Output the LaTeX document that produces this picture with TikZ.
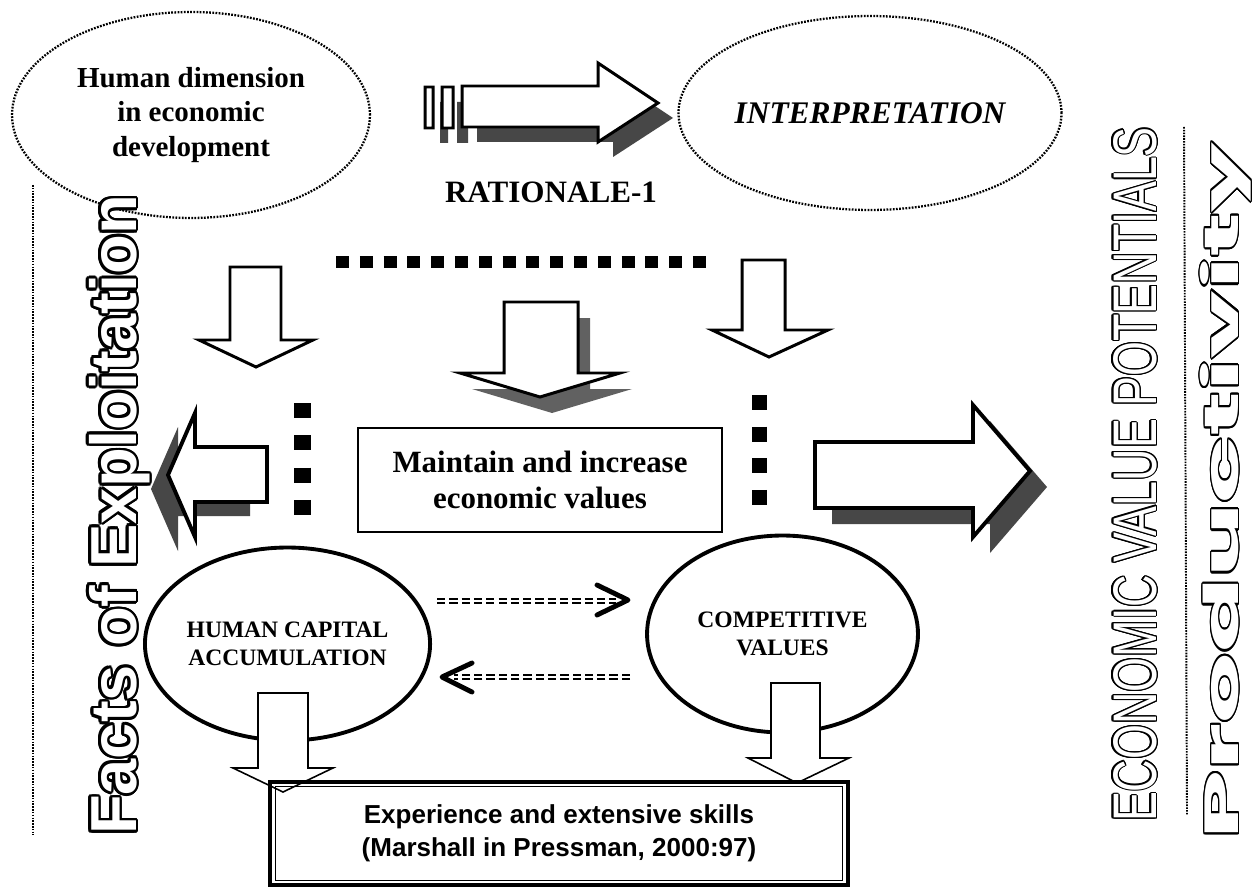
\documentclass[tikz,border=0pt]{standalone}
\usepackage{fontspec}
\setmainfont{Liberation Serif}
\newfontfamily\arialf{Liberation Sans}
\newfontfamily\popf{Poppins}
\usepackage{graphicx}
\usepackage{contour}
\usetikzlibrary{shapes.geometric,calc}
\newcommand\hollowtxt[2]{{\contourlength{#1}\color{white}\contour{black}{#2}}}
\tikzset{
  dotl/.style={line width=1.1pt, dash pattern=on 0.9pt off 0.7pt},
  dotell/.style={ellipse, draw, line width=1.3pt, dash pattern=on 1pt off 0.8pt, inner sep=0pt},
  solell/.style={ellipse, draw, line width=2.2pt, inner sep=0pt},
  blk/.style={draw, fill=white, line width=1.7pt, line join=miter},
  bigblk/.style={draw, fill=white, line width=2.2pt, line join=miter},
  thinblk/.style={draw, fill=white, line width=0.9pt, line join=miter},
  shad/.style={fill=black!72, draw=none},
  lshad/.style={fill=black!62, draw=none},
  dbldash/.style={draw=black, line width=0.9pt, double=white, double distance=1.1pt, dash pattern=on 4.7pt off 2.3pt},
  chev/.style={line width=2.8pt, line cap=round, line join=round},
  ratpath/.style={insert path={(462,86) -- (598,86) -- (598,63) -- (658,103) -- (598,142) -- (598,127) -- (462,127) -- cycle (425,87) rectangle (433,128) (442,87) rectangle (453,128)}},
  leftpath/.style={insert path={(267,447) -- (195,447) -- (195,413) -- (168,475) -- (195,537) -- (195,502) -- (267,502) -- cycle}},
  rightpath/.style={insert path={(815,442) -- (973,442) -- (973,405) -- (1030,471) -- (973,537) -- (973,508) -- (815,508) -- cycle}},
  midpath/.style={insert path={(504,302) -- (578,302) -- (578,373) -- (620,373) -- (540,397) -- (460,373) -- (504,373) -- cycle}},
}
\begin{document}
\begin{tikzpicture}[x=0.02cm,y=-0.02cm]
\useasboundingbox (0,0) rectangle (1256,888);
\fill[white] (0,0) rectangle (1256,888);

% top ellipses
\node[dotell, minimum width=7.16cm, minimum height=4.12cm, align=center,
  font=\fontsize{16.5}{19.9}\selectfont\bfseries] (hde) at (191,115)
  {Human dimension\\in economic\\development};
\node[dotell, minimum width=7.08cm, minimum height=3.88cm,
  font=\fontsize{17.9}{20}\selectfont\bfseries\itshape] (interp) at (870,113) {INTERPRETATION};

% rationale arrow
\fill[shad, shift={(15,15)}, ratpath];
\draw[blk, ratpath];
\node[font=\fontsize{17.7}{20}\selectfont\bfseries] (rat) at (551,192) {RATIONALE-1};

% top row of squares
\coordinate (sqa) at (336,262);
\coordinate (sqb) at (706,262);
\draw[line width=0.26cm, dash pattern=on 0.26cm off 0.216cm] (sqa) -- (sqb);

% top row down arrows
\draw[blk] (230,267) -- (281,267) -- (281,340) -- (313,340) -- (256,367) -- (199,340) -- (230,340) -- cycle;
\fill[lshad, shift={(12,16)}, midpath];
\draw[blk, midpath];
\draw[blk] (742,260) -- (785,260) -- (785,330) -- (828,330) -- (769,357) -- (712,330) -- (742,330) -- cycle;

% vertical squares
\coordinate (lsa) at (302.5,403);
\coordinate (lsb) at (302.5,515);
\draw[line width=0.34cm, dash pattern=on 0.3cm off 0.3467cm] (lsa) -- (lsb);
\coordinate (rsa) at (759.5,395);
\coordinate (rsb) at (759.5,505);
\draw[line width=0.3cm, dash pattern=on 0.3cm off 0.333cm] (rsa) -- (rsb);

% big side arrows
\fill[shad, shift={(-17,14)}, leftpath];
\draw[bigblk, leftpath];
\fill[shad, shift={(17,16)}, rightpath];
\draw[bigblk, rightpath];

% maintain box
\node[draw, line width=1.3pt, minimum width=7.28cm, minimum height=2.08cm, align=center,
  font=\fontsize{17.6}{20}\selectfont\bfseries] (maint) at (540,480)
  {Maintain and increase\\economic values};

% bottom ellipses
\node[solell, minimum width=5.3cm, minimum height=3.86cm, align=center,
  font=\fontsize{13.4}{16}\selectfont\bfseries] (hca) at (287.5,644)
  {HUMAN CAPITAL\\ACCUMULATION};
\node[solell, minimum width=5.42cm, minimum height=3.94cm, align=center,
  font=\fontsize{13.4}{16}\selectfont\bfseries] (comp) at (782.5,634)
  {COMPETITIVE\\VALUES};

% dashed arrows
\coordinate (d1s) at (437,601);
\coordinate (d1e) at (616,601);
\coordinate (d1t) at (628,600);
\draw[dbldash] (d1s) -- (d1e);
\draw[chev] ($(d1t)+(-31,-15)$) -- (d1t) -- ($(d1t)+(-31,15)$);
\coordinate (d2s) at (630,677);
\coordinate (d2e) at (454,677);
\coordinate (d2t) at (442,677);
\draw[dbldash] (d2s) -- (d2e);
\draw[chev] ($(d2t)+(30,-14)$) -- (d2t) -- ($(d2t)+(30,15)$);

% bottom down arrows
\draw[thinblk] (258,693) -- (308,693) -- (308,768) -- (333,768) -- (283,792) -- (233,768) -- (258,768) -- cycle;
\draw[thinblk] (771,683) -- (820,683) -- (820,758) -- (849,758) -- (797,783) -- (748,758) -- (771,758) -- cycle;

% bottom box
\node[draw, line width=1.8pt, minimum width=11.56cm, minimum height=2.06cm, align=center,
  font=\fontsize{14.8}{18.8}\selectfont\arialf\bfseries] (exp) at (559,833.5)
  {Experience and extensive skills\\(Marshall in Pressman, 2000:97)};
\draw[line width=0.9pt] ($(exp.north west)+(7,6)$) rectangle ($(exp.south east)+(-7,-6)$);

% side dotted lines
\coordinate (ldt) at (33,185);
\coordinate (ldb) at (33,835);
\draw[dotl] (ldt) -- (ldb);
\coordinate (rdt) at (1184,127);
\coordinate (rdb) at (1187,815);
\draw[dotl] (rdt) -- (rdb);

% vertical hollow texts
\node[rotate=90, anchor=base, inner sep=0pt] (facts) at (136,515)
  {\resizebox{12.8cm}{!}{\fontsize{37}{40}\selectfont\hollowtxt{1.6pt}{\arialf\bfseries Facts of Exploitation}}};
\node[rotate=90, anchor=base, inner sep=0pt] (econ) at (1156,474.5)
  {\resizebox{13.9cm}{0.86cm}{\fontsize{30}{34}\selectfont\hollowtxt{0.7pt}{\arialf ECONOMIC VALUE POTENTIALS}}};
\node[rotate=90, inner sep=0pt] (prod) at (1226,491)
  {\resizebox*{13.94cm}{1.04cm}{\fontsize{30}{34}\selectfont\hollowtxt{0.6pt}{\popf\bfseries Productivity}}};
\end{tikzpicture}
\end{document}
